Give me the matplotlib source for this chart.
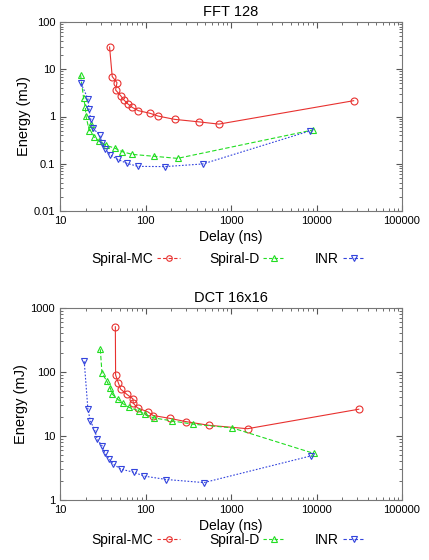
import matplotlib
matplotlib.use("Agg")
import matplotlib.pyplot as plt
from matplotlib.lines import Line2D
from matplotlib.ticker import LogLocator, FuncFormatter, NullFormatter

plt.rcParams['font.family'] = ['Liberation Sans', 'DejaVu Sans']

series_names = ["Spiral-MC", "Spiral-D", "INR"]

# FFT 128
fft_mc_x = [38.0, 40.8, 46.4, 44.7, 51.2, 56.0, 62.3, 70.0, 82.3, 112.8, 141, 219, 421, 721, 27200]
fft_mc_y = [29.6, 7.0, 5.2, 3.64, 2.76, 2.23, 1.84, 1.56, 1.33, 1.17, 1.02, 0.87, 0.77, 0.69, 2.16]
fft_d_x = [17.4, 18.9, 19.8, 20.1, 22.0, 23.3, 24.7, 28.8, 34.5, 43.5, 53.5, 70, 125, 237, 9120]
fft_d_y = [7.55, 2.42, 1.56, 1.03, 0.50, 0.69, 0.374, 0.298, 0.245, 0.215, 0.18, 0.158, 0.144, 0.130, 0.52]
fft_inr_x = [17.6, 21.2, 21.8, 22.8, 24.5, 29, 31, 33.9, 38.8, 47.2, 60.7, 81.5, 170, 469, 8500]
fft_inr_y = [5.03, 2.38, 1.44, 0.90, 0.56, 0.405, 0.28, 0.205, 0.153, 0.124, 0.102, 0.088, 0.087, 0.099, 0.50]

# DCT 16x16
dct_mc_x = [44.4, 44.7, 48.1, 51.2, 60.7, 71.3, 71.9, 80.7, 106.6, 123, 191, 296, 550, 1560, 31200]
dct_mc_y = [509, 89.8, 67.9, 54, 44.6, 38.1, 32.6, 27.5, 23.8, 20.9, 18.9, 16.8, 14.7, 13.0, 26.2]
dct_d_x = [29.6, 31, 35.1, 38.7, 40.9, 47.2, 54, 64.6, 83.8, 97.5, 125, 204, 361, 1032, 9290]
dct_d_y = [227, 95.3, 73.1, 56, 45.1, 37.6, 32.2, 27.9, 24.7, 21.9, 19.2, 17.2, 15.3, 13.4, 5.35]
dct_inr_x = [19.2, 21.2, 22.6, 25.4, 27.3, 31.2, 33.6, 37.7, 42, 51.6, 72.6, 96.7, 176, 482, 8730]
dct_inr_y = [147, 26.2, 17.4, 12.4, 8.87, 6.97, 5.35, 4.36, 3.63, 3.03, 2.72, 2.36, 2.09, 1.87, 4.91]

colors = ["#e8312f", "#22dd22", "#3344dd"]
markers = ["o", "^", "v"]
styles = ["-", (0, (4, 2)), (0, (1.5, 1.5))]

fig = plt.figure(figsize=(4.29, 5.6), dpi=100)
ax1 = fig.add_axes([60/429, 1-211/560, 342/429, 189/560])
ax2 = fig.add_axes([60/429, 1-500/560, 342/429, 192/560])

def fmt(v, pos):
    if v >= 1:
        return "%d" % round(v)
    return ("%g" % v)

def draw(ax, data, title, ylim):
    for (x, y), c, m, ls in zip(data, colors, markers, styles):
        ax.plot(x, y, color=c, marker=m, linestyle=ls, linewidth=0.8,
                markersize=5, markerfacecolor='none', markeredgewidth=0.8)
    ax.set_xscale('log')
    ax.set_yscale('log')
    ax.set_xlim(10, 100000)
    ax.set_ylim(*ylim)
    ax.set_title(title, fontsize=10.5, pad=4)
    ax.set_xlabel("Delay (ns)", fontsize=10, labelpad=3)
    ax.set_ylabel("Energy (mJ)", fontsize=10.5, labelpad=2)
    ax.xaxis.set_major_formatter(FuncFormatter(fmt))
    ax.yaxis.set_major_formatter(FuncFormatter(fmt))
    ax.xaxis.set_minor_formatter(NullFormatter())
    ax.yaxis.set_minor_formatter(NullFormatter())
    ax.xaxis.set_minor_locator(LogLocator(subs=range(2, 10), numticks=20))
    ax.yaxis.set_minor_locator(LogLocator(subs=range(2, 10), numticks=20))
    ax.tick_params(which='both', direction='in', top=True, right=True, labelsize=8, color='#555555')
    ax.tick_params(which='major', length=4)
    ax.tick_params(which='minor', length=2)
    for s in ax.spines.values():
        s.set_color('#777777')
        s.set_linewidth(0.8)

draw(ax1, [(fft_mc_x, fft_mc_y), (fft_d_x, fft_d_y), (fft_inr_x, fft_inr_y)], "FFT 128", (0.01, 100))
draw(ax2, [(dct_mc_x, dct_mc_y), (dct_d_x, dct_d_y), (dct_inr_x, dct_inr_y)], "DCT 16x16", (1, 1000))

handles = [Line2D([0], [0], color=c, marker=m, linestyle=(0, (3, 2)), linewidth=0.8,
                  markersize=4, markerfacecolor='none', markeredgewidth=0.8)
           for c, m in zip(colors, markers)]

for yy in [1-259/560, 1-540/560]:
    fig.legend(handles, series_names, loc='center', bbox_to_anchor=(0.532, yy), ncol=3,
               frameon=False, markerfirst=False, fontsize=10, handlelength=1.6,
               handletextpad=0.3, columnspacing=2.1)

fig.savefig("out.png", dpi=100)
